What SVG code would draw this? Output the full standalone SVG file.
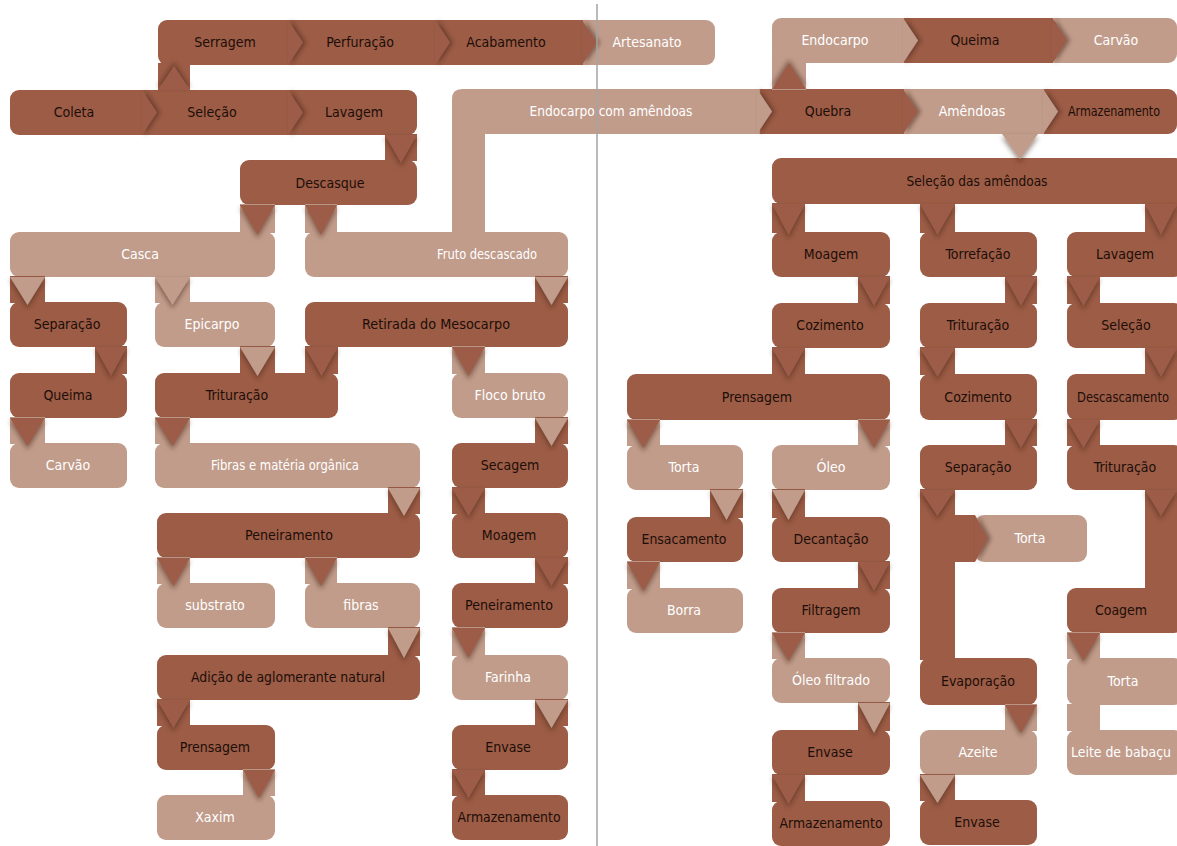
<svg xmlns="http://www.w3.org/2000/svg" width="1177" height="846" viewBox="0 0 1177 846">
<defs>
<filter id="sh" x="-50%" y="-50%" width="200%" height="200%"><feDropShadow dx="0" dy="3" stdDeviation="2.5" flood-color="#3a1a0e" flood-opacity="0.55"/></filter>
<filter id="shr" x="-50%" y="-20%" width="200%" height="140%"><feDropShadow dx="3" dy="0" stdDeviation="2" flood-color="#3a1a0e" flood-opacity="0.5"/></filter>
<filter id="shu" x="-50%" y="-50%" width="200%" height="200%"><feDropShadow dx="0" dy="-3" stdDeviation="2.5" flood-color="#3a1a0e" flood-opacity="0.55"/></filter>
</defs>
<style>
.d{fill:#9c5c46}.l{fill:#c19c8b}
text{font-family:"DejaVu Sans Condensed","DejaVu Sans",sans-serif;font-stretch:condensed;font-size:14px;text-anchor:middle}
.td{fill:#1c0e08}.tl{fill:#ffffff}
.v{filter:url(#sh)}.c{filter:url(#shr)}.u{filter:url(#shu)}
</style>
<rect width="1177" height="846" fill="#ffffff"/>

<!-- top row left -->
<g id="n-artesanato"><rect class="l" x="572" y="20" width="143" height="45" rx="9"/><text class="tl" x="647" y="47">Artesanato</text></g>
<g id="n-acabamento"><rect class="d" x="425" y="20" width="160" height="45" rx="9"/><text class="td" x="506" y="47">Acabamento</text></g>
<g id="n-perfuracao"><rect class="d" x="278" y="20" width="160" height="45" rx="9"/><text class="td" x="360" y="47">Perfuração</text></g>
<g id="n-serragem"><rect class="d" x="158" y="20" width="132" height="45" rx="9"/><text class="td" x="225" y="47">Serragem</text></g>

<!-- row 2 left -->
<g id="n-lavagem"><rect class="d" x="278" y="90" width="139" height="45" rx="9"/><text class="td" x="354" y="117">Lavagem</text></g>
<g id="n-selecao"><rect class="d" x="132" y="90" width="158" height="45" rx="9"/><text class="td" x="212" y="117">Seleção</text></g>
<g id="n-coleta"><rect class="d" x="10" y="90" width="135" height="45" rx="9"/><text class="td" x="74" y="117">Coleta</text></g>
<g id="n-descasque"><rect class="d" x="240" y="160" width="177" height="45" rx="9"/><text class="td" x="330" y="188">Descasque</text></g>

<!-- right top rows -->
<g id="n-carvao2"><rect class="l" x="1045" y="18" width="132" height="45" rx="9"/><text class="tl" x="1116" y="45">Carvão</text></g>
<g id="n-queima2"><rect class="d" x="893" y="18" width="164" height="45" rx="9"/><text class="td" x="975" y="45">Queima</text></g>
<g id="n-endocarpo"><rect class="l" x="772" y="18" width="133" height="45" rx="9"/><text class="tl" x="835" y="45">Endocarpo</text></g>
<g id="n-armazenamento0"><rect class="d" x="1033" y="89" width="144" height="45" rx="9"/><text class="td" x="1114" y="116" textLength="92" lengthAdjust="spacingAndGlyphs">Armazenamento</text></g>
<g id="n-amendoas"><rect class="l" x="893" y="89" width="152" height="45" rx="9"/><text class="tl" x="972" y="116">Amêndoas</text></g>
<g id="n-quebra"><rect class="d" x="747" y="89" width="158" height="45" rx="9"/><text class="td" x="828" y="116">Quebra</text></g>
<g id="n-endocarpo-amendoas"><path class="l" d="M452,232 V99 Q452,89 462,89 H760 V134 H485 V232 Z"/><text class="tl" x="611" y="116" textLength="163" lengthAdjust="spacingAndGlyphs">Endocarpo com amêndoas</text></g>
<g id="n-selecao-amendoas"><rect class="d" x="772" y="158" width="412" height="46" rx="9"/><text class="td" x="977" y="186" textLength="141" lengthAdjust="spacingAndGlyphs">Seleção das amêndoas</text></g>

<!-- left half lower -->
<g id="n-casca"><rect class="l" x="10" y="232" width="265" height="45" rx="9"/><text class="tl" x="140" y="259">Casca</text></g>
<g id="n-fruto"><rect class="l" x="305" y="232" width="263" height="45" rx="9"/><text class="tl" x="487" y="259" textLength="100" lengthAdjust="spacingAndGlyphs">Fruto descascado</text></g>
<g id="n-separacao"><rect class="d" x="10" y="302" width="117" height="45" rx="9"/><text class="td" x="67" y="329">Separação</text></g>
<g id="n-epicarpo"><rect class="l" x="155" y="302" width="120" height="45" rx="9"/><text class="tl" x="212" y="329">Epicarpo</text></g>
<g id="n-retirada"><rect class="d" x="305" y="302" width="263" height="45" rx="9"/><text class="td" x="436" y="329" textLength="148" lengthAdjust="spacingAndGlyphs">Retirada do Mesocarpo</text></g>
<g id="n-queima"><rect class="d" x="10" y="373" width="117" height="45" rx="9"/><text class="td" x="68" y="400">Queima</text></g>
<g id="n-trituracao"><rect class="d" x="155" y="373" width="183" height="45" rx="9"/><text class="td" x="237" y="400">Trituração</text></g>
<g id="n-floco"><rect class="l" x="452" y="373" width="116" height="45" rx="9"/><text class="tl" x="510" y="400">Floco bruto</text></g>
<g id="n-carvao"><rect class="l" x="10" y="443" width="117" height="45" rx="9"/><text class="tl" x="68" y="470">Carvão</text></g>
<g id="n-fibras-materia"><rect class="l" x="155" y="443" width="265" height="45" rx="9"/><text class="tl" x="285" y="470" textLength="148" lengthAdjust="spacingAndGlyphs">Fibras e matéria orgânica</text></g>
<g id="n-secagem"><rect class="d" x="452" y="443" width="116" height="45" rx="9"/><text class="td" x="510" y="470">Secagem</text></g>
<g id="n-peneiramento"><rect class="d" x="157" y="513" width="263" height="45" rx="9"/><text class="td" x="289" y="540" textLength="88" lengthAdjust="spacingAndGlyphs">Peneiramento</text></g>
<g id="n-moagem"><rect class="d" x="452" y="513" width="116" height="45" rx="9"/><text class="td" x="509" y="540">Moagem</text></g>
<g id="n-substrato"><rect class="l" x="157" y="583" width="118" height="45" rx="9"/><text class="tl" x="215" y="610">substrato</text></g>
<g id="n-fibras"><rect class="l" x="305" y="583" width="115" height="45" rx="9"/><text class="tl" x="361" y="610">fibras</text></g>
<g id="n-peneiramento2"><rect class="d" x="452" y="583" width="116" height="45" rx="9"/><text class="td" x="509" y="610" textLength="88" lengthAdjust="spacingAndGlyphs">Peneiramento</text></g>
<g id="n-adicao"><rect class="d" x="157" y="655" width="263" height="45" rx="9"/><text class="td" x="288" y="682" textLength="194" lengthAdjust="spacingAndGlyphs">Adição de aglomerante natural</text></g>
<g id="n-farinha"><rect class="l" x="452" y="655" width="116" height="45" rx="9"/><text class="tl" x="508" y="682">Farinha</text></g>
<g id="n-prensagem"><rect class="d" x="157" y="725" width="118" height="45" rx="9"/><text class="td" x="215" y="752">Prensagem</text></g>
<g id="n-envase"><rect class="d" x="452" y="725" width="116" height="45" rx="9"/><text class="td" x="508" y="752">Envase</text></g>
<g id="n-xaxim"><rect class="l" x="157" y="795" width="118" height="45" rx="9"/><text class="tl" x="215" y="822">Xaxim</text></g>
<g id="n-armazenamento"><rect class="d" x="452" y="795" width="116" height="45" rx="9"/><text class="td" x="509" y="822" textLength="103" lengthAdjust="spacingAndGlyphs">Armazenamento</text></g>

<!-- right half lower -->
<g id="n-moagem2"><rect class="d" x="772" y="232" width="118" height="45" rx="9"/><text class="td" x="831" y="259">Moagem</text></g>
<g id="n-torrefacao"><rect class="d" x="920" y="232" width="117" height="45" rx="9"/><text class="td" x="978" y="259">Torrefação</text></g>
<g id="n-lavagem2"><rect class="d" x="1067" y="232" width="116" height="45" rx="9"/><text class="td" x="1125" y="259">Lavagem</text></g>
<g id="n-cozimento"><rect class="d" x="772" y="303" width="118" height="45" rx="9"/><text class="td" x="830" y="330">Cozimento</text></g>
<g id="n-trituracao2"><rect class="d" x="920" y="303" width="117" height="45" rx="9"/><text class="td" x="978" y="330">Trituração</text></g>
<g id="n-selecao2"><rect class="d" x="1067" y="303" width="116" height="45" rx="9"/><text class="td" x="1126" y="330">Seleção</text></g>
<g id="n-prensagem2"><rect class="d" x="627" y="374" width="263" height="46" rx="9"/><text class="td" x="757" y="402">Prensagem</text></g>
<g id="n-cozimento2"><rect class="d" x="920" y="374" width="117" height="46" rx="9"/><text class="td" x="978" y="402">Cozimento</text></g>
<g id="n-descascamento"><rect class="d" x="1067" y="374" width="116" height="46" rx="9"/><text class="td" x="1123" y="402" textLength="92" lengthAdjust="spacingAndGlyphs">Descascamento</text></g>
<g id="n-torta"><rect class="l" x="627" y="445" width="116" height="45" rx="9"/><text class="tl" x="684" y="472">Torta</text></g>
<g id="n-oleo"><rect class="l" x="772" y="445" width="118" height="45" rx="9"/><text class="tl" x="831" y="472">Óleo</text></g>
<g id="n-separacao2"><rect class="d" x="920" y="445" width="117" height="45" rx="9"/><text class="td" x="978" y="472">Separação</text></g>
<g id="n-trituracao3"><rect class="d" x="1067" y="445" width="116" height="45" rx="9"/><text class="td" x="1125" y="472">Trituração</text></g>
<g id="n-ensacamento"><rect class="d" x="627" y="517" width="116" height="45" rx="9"/><text class="td" x="684" y="544" textLength="85" lengthAdjust="spacingAndGlyphs">Ensacamento</text></g>
<g id="n-decantacao"><rect class="d" x="772" y="517" width="118" height="45" rx="9"/><text class="td" x="831" y="544">Decantação</text></g>
<g id="n-torta2"><rect class="l" x="975" y="515" width="112" height="47" rx="9"/><text class="tl" x="1030" y="543">Torta</text></g>
<g id="n-borra"><rect class="l" x="627" y="588" width="116" height="45" rx="9"/><text class="tl" x="684" y="615">Borra</text></g>
<g id="n-filtragem"><rect class="d" x="772" y="588" width="118" height="45" rx="9"/><text class="td" x="831" y="615">Filtragem</text></g>
<g id="n-coagem"><rect class="d" x="1067" y="588" width="116" height="45" rx="9"/><text class="td" x="1121" y="615">Coagem</text></g>
<g id="n-oleo-filtrado"><rect class="l" x="772" y="658" width="118" height="45" rx="9"/><text class="tl" x="831" y="685">Óleo filtrado</text></g>
<g id="n-evaporacao"><rect class="d" x="920" y="658" width="117" height="47" rx="9"/><text class="td" x="978" y="686">Evaporação</text></g>
<g id="n-torta3"><rect class="l" x="1067" y="658" width="116" height="47" rx="9"/><text class="tl" x="1123" y="686">Torta</text></g>
<g id="n-envase2"><rect class="d" x="772" y="730" width="118" height="45" rx="9"/><text class="td" x="830" y="757">Envase</text></g>
<g id="n-azeite"><rect class="l" x="920" y="730" width="117" height="45" rx="9"/><text class="tl" x="978" y="757">Azeite</text></g>
<g id="n-leite"><rect class="l" x="1067" y="730" width="116" height="45" rx="9"/><text class="tl" x="1121" y="757" textLength="100" lengthAdjust="spacingAndGlyphs">Leite de babaçu</text></g>
<g id="n-armazenamento2"><rect class="d" x="772" y="801" width="118" height="45" rx="9"/><text class="td" x="831" y="828" textLength="103" lengthAdjust="spacingAndGlyphs">Armazenamento</text></g>
<g id="n-envase3"><rect class="d" x="920" y="800" width="117" height="45" rx="9"/><text class="td" x="977" y="827">Envase</text></g>

<g id="connectors">
<!-- bands (target colour) -->
<rect class="d" x="158" y="63" width="32" height="28"/>
<rect class="l" x="772" y="55" width="34" height="35"/>
<rect class="d" x="385" y="134" width="32" height="27"/>
<rect class="l" x="240" y="204" width="35" height="29"/>
<rect class="l" x="305" y="204" width="32" height="29"/>
<rect class="d" x="10" y="276" width="35" height="27"/>
<rect class="l" x="155" y="276" width="35" height="27"/>
<rect class="d" x="535" y="276" width="33" height="27"/>
<rect class="d" x="95" y="346" width="32" height="28"/>
<rect class="d" x="240" y="346" width="35" height="28"/>
<rect class="d" x="305" y="346" width="33" height="28"/>
<rect class="l" x="452" y="346" width="33" height="28"/>
<rect class="l" x="10" y="417" width="35" height="27"/>
<rect class="l" x="155" y="417" width="35" height="27"/>
<rect class="d" x="535" y="417" width="33" height="27"/>
<rect class="d" x="388" y="487" width="32" height="27"/>
<rect class="d" x="452" y="487" width="33" height="27"/>
<rect class="l" x="157" y="557" width="33" height="27"/>
<rect class="l" x="305" y="557" width="32" height="27"/>
<rect class="d" x="535" y="557" width="33" height="27"/>
<rect class="d" x="388" y="627" width="32" height="29"/>
<rect class="l" x="452" y="627" width="33" height="29"/>
<rect class="d" x="157" y="699" width="33" height="27"/>
<rect class="d" x="535" y="699" width="33" height="27"/>
<rect class="l" x="243" y="769" width="32" height="27"/>
<rect class="d" x="452" y="769" width="33" height="27"/>
<rect class="d" x="772" y="203" width="33" height="30"/>
<rect class="d" x="920" y="203" width="35" height="30"/>
<rect class="d" x="1145" y="203" width="32" height="30"/>
<rect class="d" x="858" y="276" width="32" height="28"/>
<rect class="d" x="1005" y="276" width="32" height="28"/>
<rect class="d" x="1067" y="276" width="33" height="28"/>
<rect class="d" x="772" y="347" width="33" height="28"/>
<rect class="d" x="920" y="347" width="35" height="28"/>
<rect class="d" x="1145" y="347" width="32" height="28"/>
<rect class="l" x="627" y="419" width="33" height="27"/>
<rect class="l" x="858" y="419" width="32" height="27"/>
<rect class="d" x="1005" y="419" width="32" height="27"/>
<rect class="d" x="1067" y="419" width="33" height="27"/>
<rect class="d" x="710" y="489" width="33" height="29"/>
<rect class="d" x="772" y="489" width="33" height="29"/>
<rect class="d" x="920" y="489" width="35" height="171"/>
<rect class="d" x="920" y="515" width="55" height="47"/>
<rect class="d" x="1145" y="489" width="32" height="101"/>
<rect class="l" x="627" y="561" width="33" height="28"/>
<rect class="d" x="858" y="561" width="32" height="28"/>
<rect class="l" x="772" y="632" width="33" height="27"/>
<rect class="l" x="1067" y="632" width="33" height="27"/>
<rect class="d" x="858" y="702" width="32" height="29"/>
<rect class="l" x="1005" y="704" width="32" height="27"/>
<rect class="l" x="1067" y="704" width="33" height="27"/>
<rect class="d" x="772" y="774" width="33" height="28"/>
<rect class="d" x="920" y="774" width="35" height="27"/>

<!-- horizontal chevrons: square base (no shadow) + shadowed tip -->
<rect class="d" x="130" y="90" width="13" height="45"/><polygon class="d c" points="142,90 157,112.5 142,135"/>
<rect class="d" x="276" y="90" width="13" height="45"/><polygon class="d c" points="288,90 303,112.5 288,135"/>
<rect class="d" x="276" y="20" width="13" height="45"/><polygon class="d c" points="288,20 303,42.5 288,65"/>
<rect class="d" x="423" y="20" width="13" height="45"/><polygon class="d c" points="435,20 450,42.5 435,65"/>
<rect class="d" x="570" y="20" width="13" height="45"/><polygon class="d c" points="582,20 597,42.5 582,65"/>
<rect class="l" x="745" y="89" width="13" height="45"/><polygon class="l c" points="757,89 772,111.5 757,134"/>
<rect class="d" x="891" y="89" width="13" height="45"/><polygon class="d c" points="903,89 918,111.5 903,134"/>
<rect class="l" x="1031" y="89" width="13" height="45"/><polygon class="l c" points="1043,89 1058,111.5 1043,134"/>
<rect class="l" x="891" y="18" width="13" height="45"/><polygon class="l c" points="903,18 918,40.5 903,63"/>
<rect class="d" x="1040" y="18" width="13" height="45"/><polygon class="d c" points="1052,18 1067,40.5 1052,63"/>
<polygon class="d c" points="975,515 988,538.5 975,562"/>

<!-- upward chevrons -->
<polygon class="d u" points="158,90 190,90 174,66"/>
<polygon class="d u" points="772,89 806,89 789,63"/>

<!-- downward chevrons (source colour) -->
<polygon class="d v" points="385,135 417,135 401,163"/>
<polygon class="d v" points="240,205 275,205 257.5,235"/>
<polygon class="d v" points="305,205 337,205 321,235"/>
<polygon class="l v" points="10,277 45,277 27.5,305"/>
<polygon class="l v" points="155,277 190,277 172.5,305"/>
<polygon class="l v" points="535,277 568,277 551.5,305"/>
<polygon class="d v" points="95,347 127,347 111,376"/>
<polygon class="l v" points="240,347 275,347 257.5,376"/>
<polygon class="d v" points="305,347 338,347 321.5,376"/>
<polygon class="d v" points="452,347 485,347 468.5,376"/>
<polygon class="d v" points="10,418 45,418 27.5,446"/>
<polygon class="d v" points="155,418 190,418 172.5,446"/>
<polygon class="l v" points="535,418 568,418 551.5,446"/>
<polygon class="l v" points="388,488 420,488 404,516"/>
<polygon class="d v" points="452,488 485,488 468.5,516"/>
<polygon class="d v" points="157,558 190,558 173.5,586"/>
<polygon class="d v" points="305,558 337,558 321,586"/>
<polygon class="d v" points="535,558 568,558 551.5,586"/>
<polygon class="l v" points="388,628 420,628 404,658"/>
<polygon class="d v" points="452,628 485,628 468.5,658"/>
<polygon class="d v" points="157,700 190,700 173.5,728"/>
<polygon class="l v" points="535,700 568,700 551.5,728"/>
<polygon class="d v" points="243,770 275,770 259,798"/>
<polygon class="d v" points="452,770 485,770 468.5,798"/>
<polygon class="l v" points="1002,134 1038,134 1020,159"/>
<polygon class="d v" points="772,204 805,204 788.5,235"/>
<polygon class="d v" points="920,204 955,204 937.5,235"/>
<polygon class="d v" points="1145,204 1177,204 1161,235"/>
<polygon class="d v" points="858,277 890,277 874,306"/>
<polygon class="d v" points="1005,277 1037,277 1021,306"/>
<polygon class="d v" points="1067,277 1100,277 1083.5,306"/>
<polygon class="d v" points="772,348 805,348 788.5,377"/>
<polygon class="d v" points="920,348 955,348 937.5,377"/>
<polygon class="d v" points="1145,348 1177,348 1161,377"/>
<polygon class="d v" points="627,420 660,420 643.5,448"/>
<polygon class="d v" points="858,420 890,420 874,448"/>
<polygon class="d v" points="1005,420 1037,420 1021,448"/>
<polygon class="d v" points="1067,420 1100,420 1083.5,448"/>
<polygon class="l v" points="710,490 743,490 726.5,520"/>
<polygon class="l v" points="772,490 805,490 788.5,520"/>
<polygon class="d v" points="920,490 955,490 937.5,516"/>
<polygon class="d v" points="1145,490 1177,490 1161,516"/>
<polygon class="d v" points="627,562 660,562 643.5,591"/>
<polygon class="d v" points="858,562 890,562 874,591"/>
<polygon class="d v" points="772,633 805,633 788.5,661"/>
<polygon class="d v" points="1067,633 1100,633 1083.5,661"/>
<polygon class="l v" points="858,703 890,703 874,733"/>
<polygon class="d v" points="1005,705 1037,705 1021,733"/>
<polygon class="d v" points="772,775 805,775 788.5,804"/>
<polygon class="l v" points="920,775 955,775 937.5,803"/>
</g>

<line x1="597" y1="4" x2="597" y2="846" stroke="#a3a3a3" stroke-width="1.5"/>
</svg>
